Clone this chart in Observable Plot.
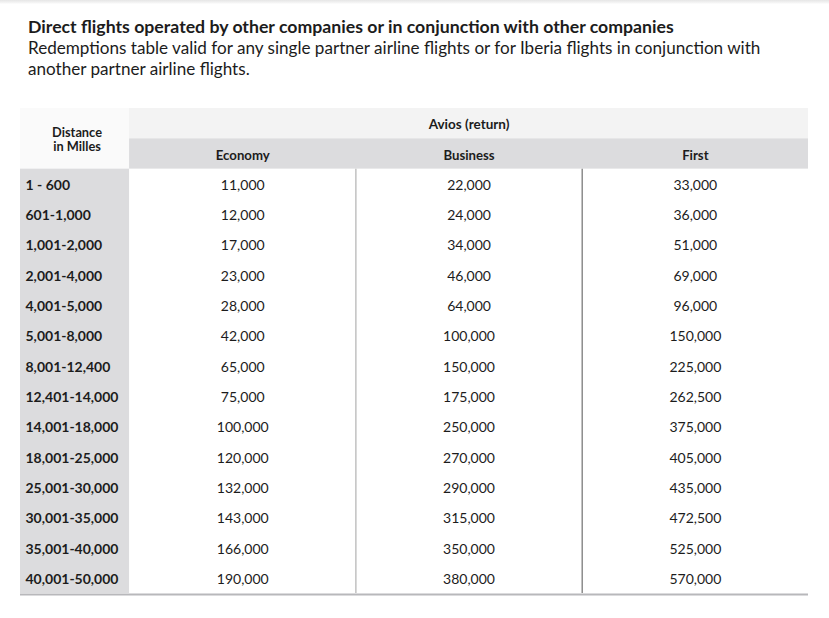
<!DOCTYPE html>
<html>
<head>
<meta charset="utf-8">
<script src="https://cdn.jsdelivr.net/npm/d3@7"></script>
<script src="https://cdn.jsdelivr.net/npm/@observablehq/plot@0.6"></script>
<style>
  html, body { margin: 0; padding: 0; background: #fff; }
  body { width: 829px; height: 618px; overflow: hidden; font-family: Lato, "Noto Sans", sans-serif; color: #1c1c1c;
         background: linear-gradient(#e6e6e6, #f6f6f6 3px, #fff 4px); }
  #head { height: 88px; box-sizing: border-box; padding: 16px 0 0 28px; }
  #title { font-weight: 700; font-size: 17.7px; line-height: 21px; }
  #sub { font-size: 17.1px; line-height: 21px; }
  svg { display: block; }
</style>
</head>
<body>
<div id="head">
  <div id="title">Direct flights operated by other companies or in conjunction with other companies</div>
  <div id="sub">Redemptions table valid for any single partner airline flights or for Iberia flights in conjunction with<br>another partner airline flights.</div>
</div>
<div id="chart"></div>
<script>
const distances = ["1 - 600","601-1,000","1,001-2,000","2,001-4,000","4,001-5,000","5,001-8,000","8,001-12,400","12,401-14,000","14,001-18,000","18,001-25,000","25,001-30,000","30,001-35,000","35,001-40,000","40,001-50,000"];
const classes = ["Economy","Business","First"];
const economy  = [11000,12000,17000,23000,28000,42000,65000,75000,100000,120000,132000,143000,166000,190000];
const business = [22000,24000,34000,46000,64000,100000,150000,175000,250000,270000,290000,315000,350000,380000];
const first    = [33000,36000,51000,69000,96000,150000,225000,262500,375000,405000,435000,472500,525000,570000];
const groupLabel = "Avios (return)";
const distanceLabel = "Distance\nin Milles";

// layout in table units: each class column = 1 unit, distance column narrower
const D0 = -0.482; // left edge of distance column
const nRows = distances.length;
const values = [economy, business, first];
const cells = [];
values.forEach((arr, c) => arr.forEach((v, r) => cells.push({c, r, v})));
const fmt = d3.format(",");

const chart = Plot.plot({
  width: 829,
  height: 530,
  marginTop: 20,
  marginBottom: 25,
  marginLeft: 20,
  marginRight: 21,
  x: {domain: [D0, 3], axis: null},
  y: {domain: [nRows, -2], axis: null},
  style: {fontFamily: "Lato, 'Noto Sans', sans-serif", color: "#1c1c1c"},
  marks: [
    // distance header cell
    Plot.rect([0], {x1: D0, x2: 0, y1: -2, y2: 0, fill: "#fafafa"}),
    // group header row
    Plot.rect([0], {x1: 0, x2: 3, y1: -2, y2: -1, fill: "#f3f3f3"}),
    // class header row
    Plot.rect([0], {x1: 0, x2: 3, y1: -1, y2: 0, fill: "#dcdcde"}),
    // distance column background
    Plot.rect([0], {x1: D0, x2: 0, y1: 0, y2: nRows, fill: "#dcdcde"}),
    // column separators
    Plot.ruleX([1], {y1: 0, y2: nRows, stroke: "#b8b8b8", strokeWidth: 1.3}),
    Plot.ruleX([2], {y1: 0, y2: nRows, stroke: "#7a7a7a", strokeWidth: 1.3}),
    // bottom rule
    Plot.ruleY([nRows], {x1: D0, x2: 3, stroke: "#b8b8bb", strokeWidth: 2.2, dy: 1}),
    // header texts
    Plot.text([groupLabel], {x: 1.5, y: -1.5, dy: 1.5, text: d => d, fontWeight: 700, fontSize: 13.5, fill: "#1c1c1c"}),
    Plot.text(classes, {x: (d, i) => i + 0.5, y: -0.5, dy: 1.5, text: d => d, fontWeight: 700, fontSize: 13.2, fill: "#1c1c1c"}),
    Plot.text([distanceLabel], {x: D0 / 2, y: -1, dx: 2, dy: 0.5, text: d => d, fontWeight: 700, fontSize: 12.8, lineHeight: 1.12, fill: "#1c1c1c"}),
    // distance labels
    Plot.text(distances, {x: D0, y: (d, i) => i + 0.5, dx: 5, dy: 1, text: d => d, textAnchor: "start", fontWeight: 700, fontSize: 14, fill: "#1c1c1c"}),
    // values
    Plot.text(cells, {x: d => d.c + 0.5, y: d => d.r + 0.5, dy: 1, text: d => fmt(d.v), fontSize: 14, fill: "#1c1c1c"})
  ]
});
document.getElementById("chart").appendChild(chart);
</script>
</body>
</html>
